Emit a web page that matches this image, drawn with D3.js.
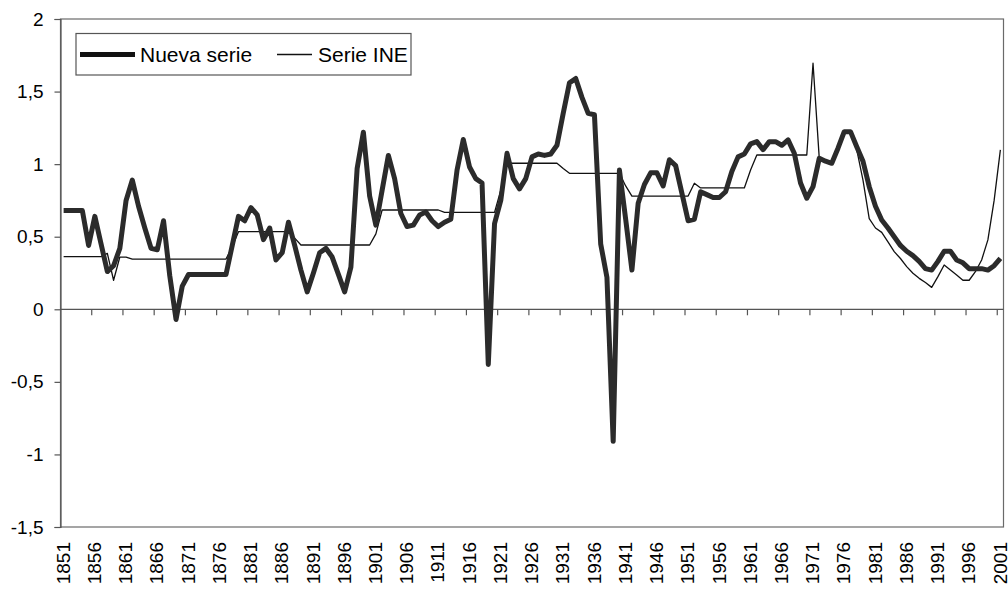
<!DOCTYPE html>
<html>
<head>
<meta charset="utf-8">
<script src="https://cdn.jsdelivr.net/npm/d3@7"></script>
<style>
    body { margin: 0; background: #fff; }
    svg text { font-family: "Liberation Sans", Arial, sans-serif; fill: #000; }
</style>
</head>
<body>
<div id="chart"></div>
<script>
// categories 1851..2001
const years = d3.range(1851, 2002);

const tickYears = [1851, 1856, 1861, 1866, 1871, 1876, 1881, 1886, 1891, 1896,
    1901, 1906, 1911, 1916, 1921, 1926, 1931, 1936, 1941, 1946,
    1951, 1956, 1961, 1966, 1971, 1976, 1981, 1986, 1991, 1996, 2001];

const yTicks = [-1.5, -1, -0.5, 0, 0.5, 1, 1.5, 2];

// Nueva serie (thick line)
const nuevaSerie = [
    0.68, 0.68, 0.68, 0.68, 0.44, 0.64, 0.45, 0.26, 0.30, 0.42,      // 1851
    0.75, 0.89, 0.71, 0.56, 0.42, 0.41, 0.61, 0.23, -0.07, 0.16,     // 1861
    0.24, 0.24, 0.24, 0.24, 0.24, 0.24, 0.24, 0.44, 0.64, 0.61,      // 1871
    0.70, 0.65, 0.48, 0.56, 0.34, 0.39, 0.60, 0.44, 0.27, 0.12,      // 1881
    0.25, 0.39, 0.42, 0.36, 0.24, 0.12, 0.29, 0.97, 1.22, 0.78,      // 1891
    0.58, 0.82, 1.06, 0.90, 0.66, 0.57, 0.58, 0.65, 0.67, 0.61,      // 1901
    0.57, 0.60, 0.62, 0.96, 1.17, 0.98, 0.90, 0.87, -0.38, 0.59,     // 1911
    0.75, 1.075, 0.90, 0.83, 0.90, 1.05, 1.07, 1.06, 1.07, 1.13,     // 1921
    1.35, 1.56, 1.59, 1.46, 1.35, 1.34, 0.45, 0.22, -0.91, 0.96,     // 1931
    0.62, 0.27, 0.73, 0.86, 0.94, 0.94, 0.85, 1.03, 0.99, 0.80,      // 1941
    0.61, 0.62, 0.81, 0.79, 0.77, 0.77, 0.81, 0.95, 1.05, 1.07,      // 1951
    1.14, 1.155, 1.10, 1.155, 1.155, 1.13, 1.167, 1.075, 0.87, 0.765, // 1961
    0.845, 1.04, 1.02, 1.006, 1.11, 1.224, 1.224, 1.12, 1.02, 0.845, // 1971
    0.71, 0.615, 0.56, 0.50, 0.44, 0.40, 0.37, 0.33, 0.28, 0.27,     // 1981
    0.33, 0.40, 0.40, 0.34, 0.32, 0.28, 0.28, 0.28, 0.27, 0.30,      // 1991
    0.35                                                             // 2001
];

// Serie INE (thin line)
const serieINE = [
    0.363, 0.363, 0.363, 0.363, 0.363, 0.363, 0.363, 0.385, 0.20, 0.36,     // 1851
    0.36, 0.346, 0.346, 0.346, 0.346, 0.346, 0.346, 0.346, 0.346, 0.346,    // 1861
    0.346, 0.346, 0.346, 0.346, 0.346, 0.346, 0.346, 0.43, 0.535, 0.535,    // 1871
    0.535, 0.535, 0.535, 0.535, 0.535, 0.535, 0.535, 0.49, 0.443, 0.443,    // 1881
    0.443, 0.443, 0.443, 0.443, 0.443, 0.443, 0.443, 0.443, 0.443, 0.443,  // 1891
    0.52, 0.684, 0.684, 0.684, 0.684, 0.684, 0.684, 0.684, 0.684, 0.684,    // 1901
    0.684, 0.668, 0.668, 0.668, 0.668, 0.668, 0.668, 0.668, 0.668, 0.668,  // 1911
    0.82, 1.006, 1.006, 1.006, 1.006, 1.006, 1.006, 1.006, 1.006, 1.006,    // 1921
    0.97, 0.937, 0.937, 0.937, 0.937, 0.937, 0.937, 0.937, 0.937, 0.937,    // 1931
    0.85, 0.78, 0.78, 0.78, 0.78, 0.78, 0.78, 0.78, 0.78, 0.78,             // 1941
    0.78, 0.868, 0.836, 0.836, 0.836, 0.836, 0.836, 0.836, 0.836, 0.836,   // 1951
    0.96, 1.063, 1.063, 1.063, 1.063, 1.063, 1.063, 1.063, 1.063, 1.063,   // 1961
    1.695, 1.04, 1.03, 1.006, 1.11, 1.224, 1.224, 1.10, 0.89, 0.625,        // 1971
    0.56, 0.53, 0.465, 0.397, 0.35, 0.294, 0.248, 0.213, 0.184, 0.151,      // 1981
    0.225, 0.305, 0.27, 0.236, 0.20, 0.20, 0.259, 0.34, 0.478, 0.75,        // 1991
    1.098                                                                   // 2001
];

const seriesNames = ["Nueva serie", "Serie INE"];

function drawChart() {
    const width = 1008, height = 590;
    const plot = {left: 60.5, right: 1003.5, top: 19, bottom: 527};

    const svg = d3.select("#chart")
        .append("svg")
        .attr("width", width)
        .attr("height", height);

    const x = d3.scaleBand()
        .domain(years)
        .range([plot.left, plot.right]);

    const y = d3.scaleLinear()
        .domain([-1.5, 2])
        .range([plot.bottom, plot.top]);

    const locale = d3.formatLocale({decimal: ",", thousands: ".", grouping: [3], currency: ["", "€"], minus: "-"});
    const fmt = locale.format("");

    // plot frame
    svg.append("rect")
        .attr("x", plot.left)
        .attr("y", plot.top)
        .attr("width", plot.right - plot.left)
        .attr("height", plot.bottom - plot.top)
        .attr("fill", "none")
        .attr("stroke", "#6a6a6a")
        .attr("stroke-width", 1.2);

    // y axis
    const yAxis = svg.append("g")
        .attr("transform", "translate(" + plot.left + ",0)")
        .call(d3.axisLeft(y).tickValues(yTicks).tickFormat(fmt).tickSize(6).tickPadding(11));
    yAxis.selectAll("line, path").attr("stroke", "#555").attr("stroke-width", 1.2);
    yAxis.selectAll("text").attr("font-size", "19px").attr("fill", "#000");

    // zero line with ticks between categories
    svg.append("line")
        .attr("x1", plot.left).attr("x2", plot.right)
        .attr("y1", y(0)).attr("y2", y(0))
        .attr("stroke", "#555").attr("stroke-width", 1.2);

    svg.selectAll(".cattick")
        .data(years.filter(function (d) { return (d - 1851) % 5 === 0 && d > 1851; }))
        .join("line")
        .attr("class", "cattick")
        .attr("x1", function (d) { return x(d); })
        .attr("x2", function (d) { return x(d); })
        .attr("y1", y(0))
        .attr("y2", y(0) + 6)
        .attr("stroke", "#555")
        .attr("stroke-width", 1.2);

    // rotated year labels under the plot
    const xAxis = svg.append("g")
        .attr("transform", "translate(0," + plot.bottom + ")")
        .call(d3.axisBottom(x).tickValues(tickYears).tickSize(0));
    xAxis.select(".domain").remove();
    xAxis.selectAll("text")
        .attr("font-size", "19px")
        .attr("fill", "#000")
        .attr("transform", "rotate(-90)")
        .attr("x", -15)
        .attr("y", -0.5)
        .attr("dy", "0.35em")
        .attr("text-anchor", "end");

    const line = function (values) {
        return d3.line()
            .x(function (d, i) { return x(years[i]) + x.bandwidth() / 2; })
            .y(function (d) { return y(d); })(values);
    };

    svg.append("path")
        .attr("d", line(serieINE))
        .attr("fill", "none")
        .attr("stroke", "#111")
        .attr("stroke-width", 1.3)
        .attr("stroke-linejoin", "round");

    svg.append("path")
        .attr("d", line(nuevaSerie))
        .attr("fill", "none")
        .attr("stroke", "#2b2b2b")
        .attr("stroke-width", 5)
        .attr("stroke-linejoin", "round");

    // legend
    const legend = svg.append("g");
    legend.append("rect")
        .attr("x", 76).attr("y", 33.5)
        .attr("width", 335).attr("height", 41.5)
        .attr("fill", "#fff")
        .attr("stroke", "#555")
        .attr("stroke-width", 1.2);

    const legendItems = [
        {name: seriesNames[0], x1: 80, x2: 135, tx: 140, w: 5},
        {name: seriesNames[1], x1: 277, x2: 312, tx: 318, w: 1.3}
    ];
    legendItems.forEach(function (d) {
        legend.append("line")
            .attr("x1", d.x1).attr("x2", d.x2)
            .attr("y1", 54.5).attr("y2", 54.5)
            .attr("stroke", "#111")
            .attr("stroke-width", d.w);
        legend.append("text")
            .attr("x", d.tx)
            .attr("y", 61.5)
            .attr("font-size", "21px")
            .text(d.name);
    });
}

drawChart();
</script>
</body>
</html>
